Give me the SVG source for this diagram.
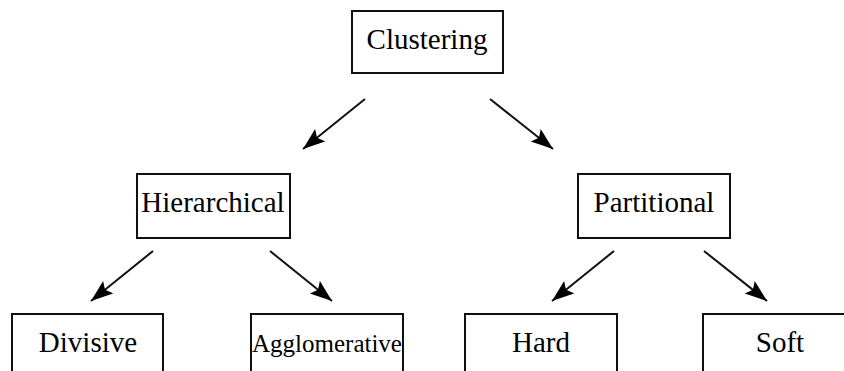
<svg xmlns="http://www.w3.org/2000/svg" width="844" height="371" viewBox="0 0 844 371">
<style>
.box{fill:#fff;stroke:#111;stroke-width:2}
.t{font-family:'Liberation Serif','DejaVu Serif','Times New Roman',serif;font-size:29px;fill:#000;text-anchor:middle}
.e{stroke:#111;stroke-width:2;fill:none;marker-end:url(#ah)}
</style>
<defs>
<marker id="ah" markerUnits="userSpaceOnUse" markerWidth="24" markerHeight="18" refX="22" refY="8" orient="auto">
<path d="M0,0 L22,8 L0,16 L4,8 Z" fill="#000"/>
</marker>
</defs>
<rect width="844" height="371" fill="#fff"/>
<g id="connectors">
<line class="e" x1="365" y1="99" x2="303" y2="149"/>
<line class="e" x1="490" y1="99" x2="553" y2="149"/>
<line class="e" x1="153" y1="251" x2="91" y2="301"/>
<line class="e" x1="270" y1="251" x2="332" y2="301"/>
<line class="e" x1="614" y1="251" x2="552" y2="301"/>
<line class="e" x1="704" y1="251" x2="767" y2="301"/>
</g>
<g id="clustering">
<rect class="box" x="352" y="11" width="151" height="62"/>
<text class="t" font-family="Liberation Serif, serif" x="427" y="49">Clustering</text>
</g>
<g id="hierarchical">
<rect class="box" x="137" y="174" width="153" height="64"/>
<text class="t" font-family="Liberation Serif, serif" x="213" y="212">Hierarchical</text>
</g>
<g id="partitional">
<rect class="box" x="578" y="174" width="152" height="64"/>
<text class="t" font-family="Liberation Serif, serif" x="654" y="212">Partitional</text>
</g>
<g id="divisive">
<rect class="box" x="12" y="314" width="151" height="70"/>
<text class="t" font-family="Liberation Serif, serif" x="88" y="352">Divisive</text>
</g>
<g id="agglomerative">
<rect class="box" x="251" y="314" width="152" height="70"/>
<text class="t" font-family="Liberation Serif, serif" x="327" y="352" style="font-size:25px">Agglomerative</text>
</g>
<g id="hard">
<rect class="box" x="465" y="314" width="152" height="70"/>
<text class="t" font-family="Liberation Serif, serif" x="541" y="352">Hard</text>
</g>
<g id="soft">
<rect class="box" x="703" y="314" width="152" height="70"/>
<text class="t" font-family="Liberation Serif, serif" x="780" y="352">Soft</text>
</g>
</svg>
